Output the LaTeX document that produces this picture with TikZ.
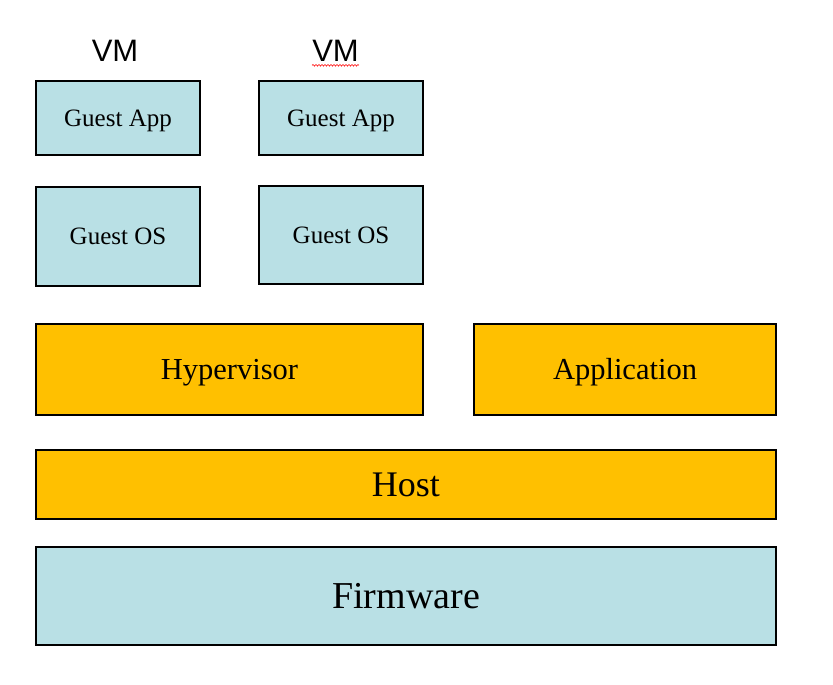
\documentclass[tikz,border=0pt]{standalone}
\usepackage{fontspec}
\setmainfont{Liberation Serif}
\newfontfamily\arialfont{Liberation Sans}
\usetikzlibrary{decorations.pathmorphing}
\definecolor{lblue}{RGB}{185,224,229}
\definecolor{gold}{RGB}{255,192,0}
\tikzset{
  box/.style={draw=black, line width=2.8pt, inner sep=0pt, align=center, text depth=0pt},
  bluebox/.style={box, fill=lblue},
  goldbox/.style={box, fill=gold},
  small/.style={font=\fontsize{25}{30}\selectfont, text height=16.5pt},
  medium/.style={font=\fontsize{30.5}{36}\selectfont, text height=20.1pt},
  vmlabel/.style={inner sep=0pt, text height=22.2pt, text depth=0pt, font=\arialfont\fontsize{31}{36}\selectfont}
}
\begin{document}
\begin{tikzpicture}[x=1pt,y=-1pt]
\useasboundingbox (0,0) rectangle (833,685);
\fill[white] (0,0) rectangle (833,685);

\node[vmlabel] (vm1) at (115,50) {VM};
\node[vmlabel] (vm2) at (335.5,50) {VM};
\draw[red, line width=0.6pt, decorate, decoration={snake, amplitude=0.8pt, segment length=3pt}]
  ([yshift=-4pt]vm2.south west) -- ([yshift=-4pt]vm2.south east);

\node[bluebox, small, minimum width=164pt, minimum height=74pt] (ga1) at (118,118) {Guest App};
\node[bluebox, small, minimum width=164pt, minimum height=74pt] (ga2) at (341,118) {Guest App};
\node[bluebox, small, minimum width=164pt, minimum height=99pt] (go1) at (118,236.5) {Guest OS};
\node[bluebox, small, minimum width=164pt, minimum height=98pt] (go2) at (341,235) {Guest OS};

\node[goldbox, medium, minimum width=387pt, minimum height=91pt] (hyp) at (229.5,369.5) {Hypervisor};
\node[goldbox, medium, minimum width=302pt, minimum height=91pt] (app) at (625,369.5) {Application};
\node[goldbox, font=\fontsize{36}{42}\selectfont, text height=23.8pt, minimum width=740pt, minimum height=69pt] (host) at (406,484.5) {Host};
\node[bluebox, font=\fontsize{38}{44}\selectfont, text height=25.1pt, minimum width=740pt, minimum height=98pt] (fw) at (406,596) {Firmware};
\end{tikzpicture}
\end{document}
